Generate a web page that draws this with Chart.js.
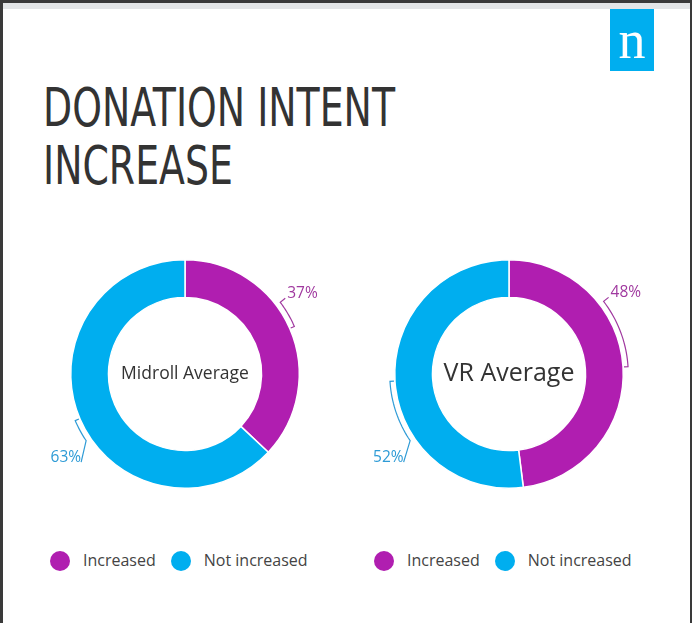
<!DOCTYPE html>
<html>
<head>
<meta charset="utf-8">
<script src="https://cdn.jsdelivr.net/npm/chart.js@4.4.1/dist/chart.umd.min.js"></script>
<style>
	body { margin: 0; width: 692px; height: 623px; background: #fff; position: relative; overflow: hidden; font-family: 'Open Sans', sans-serif; }
	.frameTop { position: absolute; left: 0; top: 0; width: 692px; height: 3px; background: #3a3a3a; }
	.frameBar { position: absolute; left: 3px; top: 3px; width: 687px; height: 6px; background: #e3e5e7; }
	.frameLeft { position: absolute; left: 0; top: 0; width: 3px; height: 623px; background: #3a3a3a; }
	.frameRight { position: absolute; left: 690px; top: 0; width: 2px; height: 623px; background: #3a3a3a; }
	.logo { position: absolute; left: 610px; top: 9px; width: 44px; height: 62px; background: #00aeef; color: #fff;
		font-family: 'Liberation Serif', serif; font-size: 54px; line-height: 62px; text-align: center; }
	.title { position: absolute; left: 43px; top: 79px; font-family: 'Liberation Sans Narrow', 'DejaVu Sans Condensed', sans-serif;
		font-size: 54px; line-height: 58px; color: #333; white-space: nowrap; transform-origin: left top; }
	canvas { position: absolute; }
	.legend { position: absolute; top: 549px; font-size: 16px; color: #444; white-space: nowrap; line-height: 22px; }
	.legend span.dot { display: inline-block; width: 20px; height: 20px; border-radius: 50%; vertical-align: -5px; margin-right: 13px; }
	.legend span.item { margin-right: 15px; }
</style>
</head>
<body>
<div class="frameTop"></div>
<div class="frameBar"></div>
<div class="frameLeft"></div>
<div class="frameRight"></div>
<div class="logo">n</div>
<div class="title" id="title"><span id="titleLine1">DONATION INTENT</span><br>INCREASE</div>
<canvas id="midrollChart" width="300" height="300" style="left:35px;top:224px"></canvas>
<canvas id="vrChart" width="300" height="300" style="left:359px;top:224px"></canvas>
<div class="legend" id="midrollLegend" style="left:50px"></div>
<div class="legend" id="vrLegend" style="left:374px"></div>
<script>
const categories = ['Increased', 'Not increased'];
const midrollValues = [37, 63];
const vrValues = [48, 52];
const centerLabels = ['Midroll Average', 'VR Average'];
const colors = ['#b01eb0', '#00aeef'];
const labelColors = ['#a0399f', '#2e9bd6'];

// squeeze the title to the condensed width of the original
const titleLine = document.getElementById('titleLine1');
const titleScale = 352 / titleLine.getBoundingClientRect().width;
document.getElementById('title').style.transform = `scaleX(${titleScale})`;

// bracket callouts drawn along the ring, positions in degrees clockwise from top
const calloutPlugin = {
	id: 'callouts',
	afterDraw(chart, args, opts) {
		const ctx = chart.ctx;
		const meta = chart.getDatasetMeta(0);
		const arc0 = meta.data[0];
		const cx = arc0.x, cy = arc0.y;
		const r = arc0.outerRadius + 5;
		const pt = (deg, rad) => {
			const a = deg * Math.PI / 180;
			return [cx + rad * Math.sin(a), cy - rad * Math.cos(a)];
		};
		const values = chart.data.datasets[0].data;
		opts.items.forEach((item, i) => {
			ctx.save();
			ctx.strokeStyle = labelColors[i];
			ctx.fillStyle = labelColors[i];
			ctx.lineWidth = 1.2;
			ctx.beginPath();
			const h = pt(item.hook, r - 4);
			ctx.moveTo(h[0], h[1]);
			const steps = 20;
			for (let s = 0; s <= steps; s++) {
				const d = item.hook + (item.tail - item.hook) * s / steps;
				const p = pt(d, r);
				ctx.lineTo(p[0], p[1]);
			}
			const t = pt(item.tail, r);
			const ax = t[0] + item.dx, ay = t[1] + item.dy;
			ctx.lineTo(ax, ay);
			ctx.stroke();
			ctx.font = '15.5px "Open Sans"';
			ctx.textBaseline = 'alphabetic';
			ctx.textAlign = item.align;
			ctx.fillText(values[i] + '%', ax + (item.align === 'left' ? 2 : 0), ay);
			ctx.restore();
		});
	}
};

const centerPlugin = {
	id: 'centerText',
	afterDraw(chart, args, opts) {
		const ctx = chart.ctx;
		const arc0 = chart.getDatasetMeta(0).data[0];
		ctx.save();
		ctx.font = opts.size + 'px "Open Sans"';
		ctx.fillStyle = '#333';
		ctx.textAlign = 'center';
		ctx.textBaseline = 'middle';
		ctx.fillText(opts.text, arc0.x, arc0.y);
		ctx.restore();
	}
};

function makeDonut(canvasId, values, centerText, centerSize, items) {
	new Chart(document.getElementById(canvasId), {
		type: 'doughnut',
		data: {
			labels: categories,
			datasets: [{
				data: values,
				backgroundColor: colors,
				borderColor: '#fff',
				borderWidth: 1.5
			}]
		},
		options: {
			responsive: false,
			animation: false,
			cutout: '67%',
			layout: { padding: 35 },
			plugins: {
				legend: { display: false },
				tooltip: { enabled: false },
				callouts: { items: items },
				centerText: { text: centerText, size: centerSize }
			}
		},
		plugins: [calloutPlugin, centerPlugin]
	});
}

makeDonut('midrollChart', midrollValues, centerLabels[0], 17.5, [
	{ hook: 66.5, tail: 53, dx: 5, dy: -4, align: 'left' },
	{ hook: 247, tail: 236, dx: -5, dy: 21.5, align: 'right' }
]);
makeDonut('vrChart', vrValues, centerLabels[1], 25, [
	{ hook: 86.5, tail: 52.5, dx: 5, dy: -4, align: 'left' },
	{ hook: 266.5, tail: 236, dx: -6.5, dy: 21.5, align: 'right' }
]);

function buildLegend(id) {
	const el = document.getElementById(id);
	el.innerHTML = categories.map((c, i) =>
		`<span class="item"><span class="dot" style="background:${colors[i]}"></span>${c}</span>`).join('');
}
buildLegend('midrollLegend');
buildLegend('vrLegend');
</script>
</body>
</html>
